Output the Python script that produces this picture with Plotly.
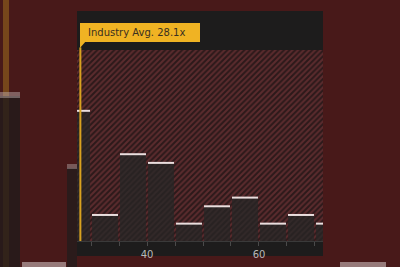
import plotly.graph_objects as go

# ---- data ----
bin_starts = [25, 30, 35, 40, 45, 50, 55, 60, 65, 70]
bin_width = 5
company_counts = [15, 3, 10, 9, 2, 4, 5, 2, 3, 2]
industry_avg = 28.1
industry_label = "Industry Avg. 28.1x"
tick_values = [30, 35, 40, 45, 50, 55, 60, 65, 70]
tick_labels = ["", "", "40", "", "", "", "60", "", ""]
x_range = [27.5, 71.43]
y_range = [0, 26.5]
hatch_top = 22.0

W, H = 400, 267
ML, MR, MT, MB = 77, 77, 11, 26
PW, PH = W - ML - MR, H - MT - MB

def px(xp):
    return (xp - ML) / PW

def py(yp):
    return (H - MB - yp) / PH

centers = [b + bin_width / 2 for b in bin_starts]

fig = go.Figure()

# hatched background region
fig.add_trace(go.Bar(
    x=[(x_range[0] + x_range[1]) / 2], y=[hatch_top],
    width=[x_range[1] - x_range[0]],
    marker=dict(color="#2c191a", line=dict(width=0),
                pattern=dict(shape="/", fgcolor="#8a3e41", bgcolor="#2c191a",
                             size=4, solidity=0.5)),
    hoverinfo="skip", showlegend=False,
))

# histogram bars
fig.add_trace(go.Bar(
    x=centers, y=company_counts, width=[bin_width * 0.93] * len(centers),
    marker=dict(color="#282222", line=dict(width=0),
                pattern=dict(shape="/", fgcolor="#3e3030", bgcolor="#282222",
                             size=4, solidity=0.45)),
    hoverinfo="skip", showlegend=False,
))

# white top lines of bars
lx, ly = [], []
for c, v in zip(centers, company_counts):
    lx += [c - bin_width * 0.465, c + bin_width * 0.465, None]
    ly += [v, v, None]
fig.add_trace(go.Scatter(x=lx, y=ly, mode="lines",
                         line=dict(color="#eadede", width=2),
                         hoverinfo="skip", showlegend=False))

# industry average line
fig.add_trace(go.Scatter(x=[industry_avg, industry_avg], y=[0, hatch_top + 0.3],
                         mode="lines", line=dict(color="#d9a21f", width=2),
                         hoverinfo="skip", showlegend=False))

shapes = [
    # blurred background elements
    dict(type="rect", xref="paper", yref="paper", x0=px(3), x1=px(9), y0=py(0), y1=py(267),
         fillcolor="#8a5a1c", line=dict(width=0), layer="below", opacity=0.7),
    dict(type="rect", xref="paper", yref="paper", x0=px(0), x1=px(20), y0=py(96), y1=py(267),
         fillcolor="#221a1a", line=dict(width=0), layer="below", opacity=0.8),
    dict(type="rect", xref="paper", yref="paper", x0=px(0), x1=px(20), y0=py(92), y1=py(98),
         fillcolor="#b8a8a8", line=dict(width=0), layer="below", opacity=0.5),
    dict(type="rect", xref="paper", yref="paper", x0=px(67), x1=px(77), y0=py(168), y1=py(267),
         fillcolor="#241c1c", line=dict(width=0), layer="below", opacity=0.8),
    dict(type="rect", xref="paper", yref="paper", x0=px(67), x1=px(77), y0=py(164), y1=py(169),
         fillcolor="#a89a9a", line=dict(width=0), layer="below", opacity=0.5),
    dict(type="rect", xref="paper", yref="paper", x0=px(22), x1=px(66), y0=py(262), y1=py(267),
         fillcolor="#d8cccc", line=dict(width=0), layer="below", opacity=0.55),
    dict(type="rect", xref="paper", yref="paper", x0=px(340), x1=px(386), y0=py(262), y1=py(267),
         fillcolor="#d8cccc", line=dict(width=0), layer="below", opacity=0.55),
    # panel
    dict(type="rect", xref="paper", yref="paper", x0=px(77), x1=px(323), y0=py(256), y1=py(11),
         fillcolor="#1d1c1c", line=dict(width=0), layer="below"),
    # label box
    dict(type="rect", xref="paper", yref="paper", x0=px(80), x1=px(200), y0=py(42), y1=py(23),
         fillcolor="#f0b323", line=dict(width=0), layer="above"),
    dict(type="path", xref="paper", yref="paper",
         path=f"M {px(80)},{py(41)} L {px(86)},{py(41)} L {px(80)},{py(48)} Z",
         fillcolor="#f0b323", line=dict(width=0), layer="above"),
]

fig.update_layout(
    width=W, height=H,
    margin=dict(l=ML, r=MR, t=MT, b=MB, pad=0, autoexpand=False),
    paper_bgcolor="#481919", plot_bgcolor="rgba(0,0,0,0)",
    barmode="overlay", bargap=0,
    shapes=shapes,
    annotations=[dict(text=industry_label, xref="paper", yref="paper",
                      x=px(86), y=py(32.5), xanchor="left", yanchor="middle",
                      showarrow=False,
                      font=dict(family="DejaVu Sans", size=10, color="#3a3020"))],
    xaxis=dict(range=x_range, tickvals=tick_values, ticktext=tick_labels,
               ticks="outside", ticklen=4, tickcolor="#4a4a4a", tickwidth=1,
               showline=True, linecolor="#3a3a3a", linewidth=1,
               showgrid=False, zeroline=False, automargin=False,
               tickfont=dict(family="DejaVu Sans", size=10, color="#b8b8b8"),
               fixedrange=True),
    yaxis=dict(range=y_range, visible=False, showgrid=False, zeroline=False,
               automargin=False, fixedrange=True),
    showlegend=False,
)

fig.write_html("out.html", config={"displayModeBar": False})
